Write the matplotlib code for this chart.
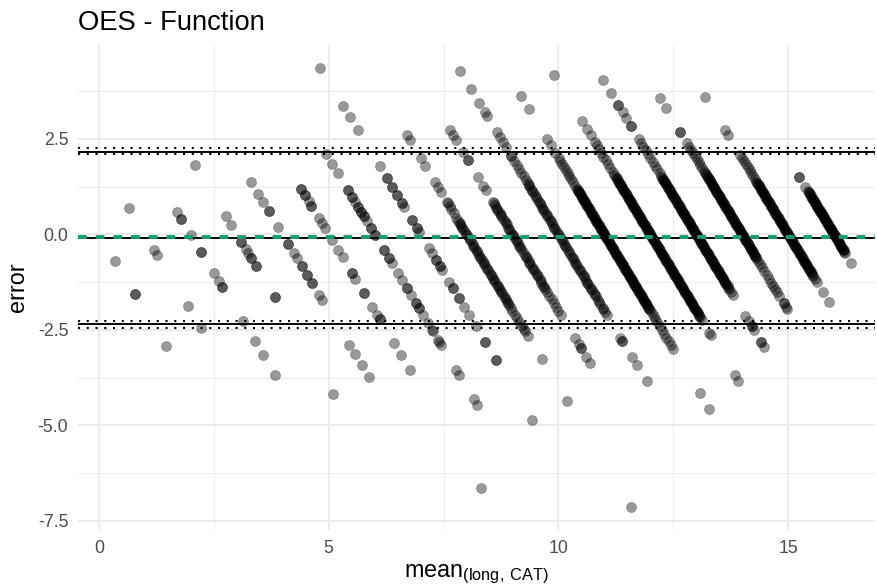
import numpy as np
import matplotlib.pyplot as plt
from matplotlib.ticker import FixedLocator

plt.rcParams['font.family'] = ['Liberation Sans', 'DejaVu Sans']
plt.rcParams['mathtext.fontset'] = 'custom'
plt.rcParams['mathtext.rm'] = 'Liberation Sans'

# long form score (integer) and the CAT scores observed for each of them
long_scores = list(range(17))
cat_scores = [
    [0.70, 1.56, 1.56, 2.92],
    [0.32, 1.41, 1.54, 2.87, 3.45],
    [1.40, 1.59, 1.59, 2.02, 2.46, 2.46, 3.00, 3.21, 3.37, 3.37, 4.26, 4.78, 5.15, 5.68],
    [1.18, 2.51, 2.75, 3.19, 3.19, 3.38, 3.49, 3.62, 3.62, 3.82, 3.82, 4.65, 4.65, 7.18],
    [2.62, 2.94, 3.14, 3.38, 3.38, 3.81, 4.24, 4.24, 4.49, 4.63, 4.84, 4.84, 5.06, 5.06,
     5.28, 5.28, 5.58, 5.71, 6.89, 7.14, 7.43, 7.74],
    [3.81, 3.81, 3.97, 3.97, 4.12, 4.25, 4.25, 4.58, 4.69, 4.84, 5.14, 5.41, 5.60, 6.02,
     6.02, 6.16, 6.54, 6.54, 6.89, 7.11, 7.22, 7.22, 7.85, 8.16, 8.54, 11.63],
    [3.89, 4.16, 4.40, 4.84, 4.84, 5.01, 5.01, 5.14, 5.27, 5.27, 5.40, 5.40, 5.53, 5.53,
     5.66, 5.84, 5.84, 6.01, 6.01, 6.41, 6.41, 6.62, 6.62, 6.75, 7.02, 7.19, 7.41, 7.41,
     7.58, 7.80, 7.80, 7.93, 7.93, 8.11, 8.31, 8.50, 8.54, 8.76, 8.81, 8.90, 9.56, 9.69,
     10.31, 10.47],
    [2.64, 3.63, 3.92, 4.26, 5.22, 5.53, 5.53, 5.75, 5.75, 5.97, 5.97, 6.18, 6.18, 6.27,
     6.62, 6.62, 6.84, 6.84, 6.93, 7.36, 7.49, 7.67, 7.67, 7.84, 7.84, 7.93, 8.24, 8.41,
     8.41, 8.67, 8.67, 8.89, 9.11, 9.41, 9.81, 9.81, 10.30, 10.30, 11.85],
    [5.40, 5.53, 6.00, 6.21, 6.62, 6.75, 6.88,
     7.14, 7.18, 7.26, 7.34, 7.45, 7.56, 7.64, 7.72, 7.78, 7.86, 7.94, 8.02, 8.10, 8.18,
     8.26, 8.34, 8.40, 8.48, 8.56, 8.64, 8.70, 8.78, 8.86, 8.94, 9.02, 9.10, 9.16, 9.24,
     9.32, 9.40, 9.46, 9.54, 9.62, 9.70, 9.76, 9.84, 9.92, 10.00, 10.10, 10.20, 10.30,
     10.40, 10.48, 10.54, 10.66, 11.27, 12.36, 15.15,
     7.70, 7.82, 7.98, 8.14, 8.30, 8.44, 8.60, 8.74, 8.90, 9.06, 9.20, 9.36, 9.50, 9.66,
     9.80],
    [6.26, 6.40, 6.53, 6.83, 7.05, 7.05, 7.49, 7.72, 7.84,
     8.16, 8.22, 8.30, 8.38, 8.44, 8.52, 8.60, 8.66, 8.74, 8.82, 8.90, 8.98, 9.06, 9.14,
     9.22, 9.30, 9.38, 9.46, 9.54, 9.62, 9.70, 9.78, 9.86, 9.94, 10.02, 10.10, 10.18,
     10.26, 10.34, 10.42, 10.50, 10.60, 10.70, 10.80, 10.90, 11.00, 11.11,
     11.72, 11.88, 11.98, 11.98, 12.20, 12.36,
     8.19, 8.34, 8.48, 8.70, 8.86, 9.02, 9.18, 9.34, 9.58, 9.74, 9.90, 10.06, 10.22,
     10.38],
    [5.72, 6.20, 6.55, 6.79, 6.90, 7.31, 7.44, 7.57, 7.70, 7.95, 7.95,
     8.08, 8.18, 8.28, 8.38, 8.48, 8.58, 8.66, 8.74, 8.82, 8.90, 8.98, 9.06, 9.14, 9.22,
     9.30, 9.38, 9.46, 9.54, 9.62, 9.70, 9.78, 9.86, 9.94, 10.02, 10.10, 10.18, 10.26,
     10.34, 10.42, 10.50, 10.58, 10.66, 10.74, 10.82, 10.90, 10.98, 11.06, 11.14, 11.22,
     11.30, 11.38, 11.46, 11.54, 11.62, 11.72, 11.82, 11.92, 12.02, 12.11,
     12.70, 12.78, 12.78, 13.22, 13.43, 13.85,
     8.70, 8.86, 9.02, 9.18, 9.34, 9.50, 9.66, 9.82, 9.98, 10.14, 10.30, 10.46, 10.62,
     10.78, 10.94, 11.10, 11.26, 11.42, 11.58, 11.76, 11.96],
    [7.37, 7.71, 8.51, 8.66, 8.87,
     9.01, 9.08, 9.16, 9.24, 9.32, 9.40, 9.48, 9.56, 9.64, 9.72, 9.80, 9.86, 9.92, 9.98,
     10.04, 10.10, 10.16, 10.22, 10.28, 10.34, 10.40, 10.46, 10.52, 10.58, 10.64, 10.70,
     10.76, 10.82, 10.88, 10.94, 11.00, 11.06, 11.12, 11.18, 11.24, 11.30, 11.36, 11.42,
     11.48, 11.54, 11.60, 11.66, 11.72, 11.78, 11.84, 11.90, 11.96, 12.02, 12.08, 12.14,
     12.20, 12.26, 12.32, 12.38, 12.44, 12.50, 12.56, 12.62, 12.68, 12.74, 12.80, 12.86,
     12.92, 12.98, 13.06, 13.14, 13.22, 13.30, 13.40, 13.50, 13.60, 13.70, 13.80, 13.90,
     14.00, 15.16, 15.56,
     9.83, 9.89, 9.95, 10.01, 10.07, 10.13, 10.19, 10.25, 10.31, 10.37, 10.43, 10.49,
     10.55, 10.61, 10.67, 10.73, 10.79, 10.85, 10.91, 10.97, 11.03, 11.09, 11.15, 11.21,
     11.27, 11.33, 11.39, 11.45, 11.51, 11.57, 11.63, 11.69, 11.75, 11.81, 11.87, 11.93,
     11.99, 12.05, 12.11, 12.17, 12.23, 12.29, 12.35, 12.41, 12.47, 12.53, 12.59, 12.65,
     12.71, 12.77, 12.83, 12.89, 12.95],
    [7.82, 9.02, 9.25, 9.40,
     9.57, 9.66, 9.76, 9.86, 9.96, 10.06, 10.16, 10.26, 10.36, 10.44, 10.50, 10.56, 10.62,
     10.68, 10.74, 10.80, 10.86, 10.92, 10.98, 11.04, 11.10, 11.16, 11.22, 11.28, 11.34,
     11.40, 11.46, 11.52, 11.58, 11.64, 11.70, 11.76, 11.82, 11.88, 11.94, 12.00, 12.06,
     12.12, 12.18, 12.24, 12.30, 12.36, 12.42, 12.48, 12.54, 12.60, 12.66, 12.72, 12.78,
     12.84, 12.90, 12.96, 13.02, 13.08, 13.14, 13.20, 13.26, 13.32, 13.38, 13.44, 13.50,
     13.56, 13.62, 13.68, 13.74, 13.80, 13.86, 13.92, 13.98, 14.04, 14.10, 14.16, 14.24,
     14.57, 14.63, 15.68, 15.83,
     10.53, 10.59, 10.65, 10.71, 10.77, 10.83, 10.89, 10.95, 11.01, 11.07, 11.13, 11.19,
     11.25, 11.31, 11.37, 11.43, 11.49, 11.55, 11.61, 11.67, 11.73, 11.79, 11.85, 11.91,
     11.97, 12.03, 12.09, 12.15, 12.21, 12.27, 12.33, 12.39, 12.45, 12.51, 12.57, 12.63,
     12.69, 12.75, 12.81, 12.87, 12.93, 12.99, 13.05, 13.11, 13.17, 13.23, 13.29, 13.35,
     13.41, 13.47, 13.53, 13.59, 13.65, 13.71, 13.77, 13.83, 13.89, 13.95, 14.01, 14.07,
     14.13],
    [8.96, 9.29, 9.61, 9.61, 9.79, 9.96, 10.16, 10.16,
     10.51, 10.60, 10.70, 10.80, 10.90, 11.00, 11.10, 11.20, 11.30, 11.40, 11.48, 11.54,
     11.60, 11.66, 11.72, 11.78, 11.84, 11.90, 11.96, 12.02, 12.08, 12.14, 12.20, 12.26,
     12.32, 12.38, 12.44, 12.50, 12.56, 12.62, 12.68, 12.74, 12.80, 12.86, 12.92, 12.98,
     13.04, 13.10, 13.16, 13.22, 13.28, 13.34, 13.40, 13.46, 13.52, 13.58, 13.64, 13.70,
     13.76, 13.82, 13.88, 13.94, 14.00, 14.06, 14.12, 14.18, 14.24, 14.30, 14.36, 14.42,
     14.50, 14.58, 15.13, 15.28, 15.41, 15.41, 15.50, 15.81, 15.81, 15.94,
     11.51, 11.57, 11.63, 11.69, 11.75, 11.81, 11.87, 11.93, 11.99, 12.05, 12.11, 12.17,
     12.23, 12.29, 12.35, 12.41, 12.47, 12.53, 12.59, 12.65, 12.71, 12.77, 12.83, 12.89,
     12.95, 13.01, 13.07, 13.13, 13.19, 13.25, 13.31, 13.37, 13.43, 13.49, 13.55, 13.61,
     13.67, 13.73, 13.79, 13.85, 13.91, 13.97, 14.03, 14.09, 14.15, 14.21, 14.27, 14.33,
     14.39],
    [10.44, 10.70, 11.31, 11.31,
     11.61, 11.70, 11.78, 11.86, 11.94, 12.02, 12.10, 12.18, 12.26, 12.34, 12.40, 12.46,
     12.52, 12.58, 12.64, 12.70, 12.76, 12.82, 12.88, 12.94, 13.00, 13.06, 13.12, 13.18,
     13.24, 13.30, 13.36, 13.42, 13.48, 13.54, 13.60, 13.66, 13.72, 13.78, 13.84, 13.90,
     13.96, 14.02, 14.08, 14.14, 14.20, 14.26, 14.32, 14.38, 14.44, 14.50, 14.56, 14.62,
     14.70, 14.78, 14.86, 14.96, 15.06, 15.16, 15.26, 15.36, 15.44, 15.50, 15.60, 15.80,
     15.80, 15.90, 15.96,
     12.43, 12.49, 12.55, 12.61, 12.67, 12.73, 12.79, 12.85, 12.91, 12.97, 13.03, 13.09,
     13.15, 13.21, 13.27, 13.33, 13.39, 13.45, 13.51, 13.57, 13.63, 13.69, 13.75, 13.81,
     13.87, 13.93, 13.99, 14.05, 14.11, 14.17, 14.23, 14.29, 14.35, 14.41, 14.47, 14.53,
     14.59],
    [11.39, 12.26, 12.40,
     12.92, 13.00, 13.08, 13.16, 13.24, 13.32, 13.40, 13.48, 13.56, 13.62, 13.68, 13.74,
     13.80, 13.86, 13.92, 13.98, 14.04, 14.10, 14.16, 14.22, 14.28, 14.34, 14.40, 14.46,
     14.52, 14.58, 14.64, 14.70, 14.76, 14.82, 14.88, 14.94, 15.00, 15.06, 15.12, 15.18,
     15.24, 15.30, 15.36, 15.42, 15.48, 15.54, 15.60, 15.66, 15.72, 15.78, 15.84, 15.90,
     15.96, 16.02, 16.08, 16.16, 16.24, 16.50, 16.76,
     13.65, 13.71, 13.77, 13.83, 13.89, 13.95, 14.01, 14.07, 14.13, 14.19, 14.25, 14.31,
     14.37, 14.43, 14.49, 14.55, 14.61, 14.67, 14.73, 14.79, 14.85, 14.91, 14.97, 15.03,
     15.09, 15.15, 15.21, 15.27, 15.33, 15.39, 15.45, 15.51, 15.57, 15.63, 15.69, 15.75,
     15.81, 15.87, 15.93, 15.99, 16.05],
    [14.49, 14.49, 14.75,
     14.86, 14.92, 14.98, 15.04, 15.10, 15.15, 15.20, 15.25, 15.30, 15.35, 15.40, 15.45,
     15.50, 15.55, 15.60, 15.65, 15.70, 15.75, 15.80, 15.85, 15.90, 15.95, 16.00, 16.05,
     16.10, 16.15, 16.20, 16.25, 16.30, 16.35, 16.40, 16.45, 16.49, 16.75,
     14.89, 14.95, 15.01, 15.07, 15.12, 15.17, 15.22, 15.27, 15.32, 15.37, 15.42, 15.47,
     15.52, 15.57, 15.62, 15.67, 15.72, 15.77, 15.82, 15.87, 15.92, 15.97, 16.02, 16.07,
     16.12, 16.17, 16.22, 16.27, 16.32, 16.37, 16.42],
]

# reference lines
bias = -0.09
upper_loa = 2.17
lower_loa = -2.35
upper_ci = [2.10, 2.25]
lower_ci = [-2.44, -2.28]
fit_level = -0.07

x_ticks = [0, 5, 10, 15]
y_ticks = [-7.5, -5.0, -2.5, 0.0, 2.5]

# Bland-Altman coordinates
means = []
errors = []
for a, cats in zip(long_scores, cat_scores):
    c = np.array(cats)
    means.append((a + c) / 2)
    errors.append(a - c)
means = np.concatenate(means)
errors = np.concatenate(errors)

fig = plt.figure(figsize=(8.77, 5.87), dpi=100)
ax = fig.add_axes([78 / 877, 1 - 530 / 587, 797 / 877, 485 / 587])

ax.scatter(means, errors, s=52, c='black', alpha=0.4, linewidths=0.4,
           edgecolors='black', zorder=3)

for v in [bias, upper_loa, lower_loa]:
    ax.axhline(v, color='black', lw=1.4, zorder=4)
for v in upper_ci + lower_ci:
    ax.axhline(v, color='black', lw=1.5, linestyle=(0, (1, 3.2)), zorder=4)
ax.axhline(fit_level, color='#12a071', lw=2.8, linestyle=(0, (2.24, 2.31)),
           dash_capstyle='butt', zorder=5)

ax.set_xlim(-0.457, 16.89)
ax.set_ylim(-7.74, 4.96)

ax.xaxis.set_major_locator(FixedLocator(x_ticks))
ax.yaxis.set_major_locator(FixedLocator(y_ticks))
ax.xaxis.set_minor_locator(FixedLocator([2.5, 7.5, 12.5]))
ax.yaxis.set_minor_locator(FixedLocator([-6.25, -3.75, -1.25, 1.25, 3.75]))
ax.set_xticklabels([str(t) for t in x_ticks])
ax.set_yticklabels([f'{t:.1f}' for t in y_ticks])

ax.grid(which='major', color='#ebebeb', lw=1.4)
ax.grid(which='minor', color='#ebebeb', lw=0.7)
ax.set_axisbelow(True)
for s in ax.spines.values():
    s.set_visible(False)
ax.tick_params(which='both', length=0, labelsize=12.8, colors='#4d4d4d', pad=7)

ax.set_xlabel(r'mean$_{\mathrm{(long,\,CAT)}}$', fontsize=16.8, color='black', labelpad=4)
ax.set_ylabel('error', fontsize=16.8, color='black', labelpad=6)
ax.set_title('OES - Function', loc='left', fontsize=19.7, pad=11)

fig.savefig('out.png', dpi=100)
